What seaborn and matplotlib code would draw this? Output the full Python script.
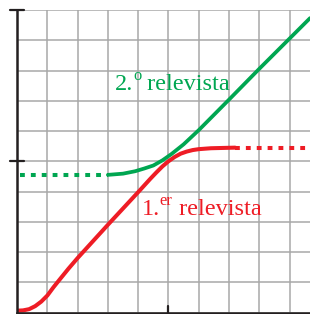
import seaborn as sns
import pandas as pd
import matplotlib.pyplot as plt

# values (1 unit = 1 grid cell)
red_x = [0.0, 0.2, 0.4, 0.6, 0.8, 1.0, 1.2, 1.4, 1.7, 2.0, 3.0, 4.0, 4.2, 4.4, 4.6, 4.8, 5.0,
         5.2, 5.4, 5.6, 5.8, 6.0, 6.4, 6.8, 7.2]
red_y = [0.06, 0.07, 0.11, 0.21, 0.36, 0.56, 0.83, 1.08, 1.45, 1.8, 2.9, 3.98, 4.2, 4.42, 4.63,
         4.83, 5.0, 5.14, 5.25, 5.32, 5.37, 5.4, 5.43, 5.44, 5.45]
red_dot_x = [7.2, 9.7]
red_dot_y = [5.45, 5.45]

green_x = [3.0, 3.5, 3.9, 4.2, 4.5, 4.8, 5.1, 5.5, 6.0, 7.0, 8.0, 9.67]
green_y = [4.55, 4.59, 4.67, 4.76, 4.86, 5.03, 5.24, 5.56, 6.03, 7.04, 8.06, 9.73]
green_dot_x = [0.1, 3.0]
green_dot_y = [4.55, 4.55]

# label = (number, superscript, rest)
label_green = ("2.", "o", " relevista")
label_red = ("1.", "er", " relevista")

RED = "#ee1c25"
GREEN = "#00a651"
FONT = "Liberation Serif"

sns.set_style("white")

fig = plt.figure(figsize=(3.1, 3.14), dpi=100)
ax = fig.add_axes([17 / 310, 1.5 / 314, 293 / 310, 302.5 / 314])

red = pd.DataFrame({"x": red_x, "y": red_y})
green = pd.DataFrame({"x": green_x, "y": green_y})

sns.lineplot(data=red, x="x", y="y", color=RED, lw=2.9, sort=False, estimator=None, ax=ax)
sns.lineplot(data=green, x="x", y="y", color=GREEN, lw=2.7, sort=False, estimator=None, ax=ax)
sns.lineplot(x=red_dot_x, y=red_dot_y, color=RED, lw=2.9, ax=ax,
             linestyle=(0, (1.2, 1.5)))
sns.lineplot(x=green_dot_x, y=green_dot_y, color=GREEN, lw=2.9, ax=ax,
             linestyle=(0, (1.2, 1.5)))

renderer = fig.canvas.get_renderer()


def put_label(x, y, parts, color, size=17.5):
    # draw "1." + raised small suffix + rest, one after another
    dx = 0
    sizes = [size, size * 0.68, size]
    rises = [0, size * 0.42, 0]
    for txt, s, r in zip(parts, sizes, rises):
        t = ax.annotate(txt, (x, y), xytext=(dx, r), textcoords="offset points",
                        color=color, fontsize=s, family=FONT, va="baseline", ha="left")
        w = t.get_window_extent(renderer).width * 72 / fig.dpi
        dx += w


put_label(3.23, 7.36, label_green, GREEN)
put_label(4.11, 3.23, label_red, RED)

ax.set_xlim(0, 9.67)
ax.set_ylim(0, 10)
ax.set_xticks(range(0, 10))
ax.set_yticks(range(0, 11))
ax.grid(True, color="#a8a8a8", lw=1.1)
ax.set_axisbelow(True)
ax.tick_params(length=0, labelleft=False, labelbottom=False)
for y in [5, 10]:
    ax.plot([-0.23, 0.23], [y, y], color="#231f20", lw=1.6, clip_on=False)
ax.plot([5, 5], [0, 0.2], color="#231f20", lw=1.6)
sns.despine(ax=ax, top=True, right=True)
for s in ["left", "bottom"]:
    ax.spines[s].set_color("#231f20")
    ax.spines[s].set_linewidth(1.8)
ax.set_xlabel("")
ax.set_ylabel("")

fig.savefig("out.png", dpi=100)
